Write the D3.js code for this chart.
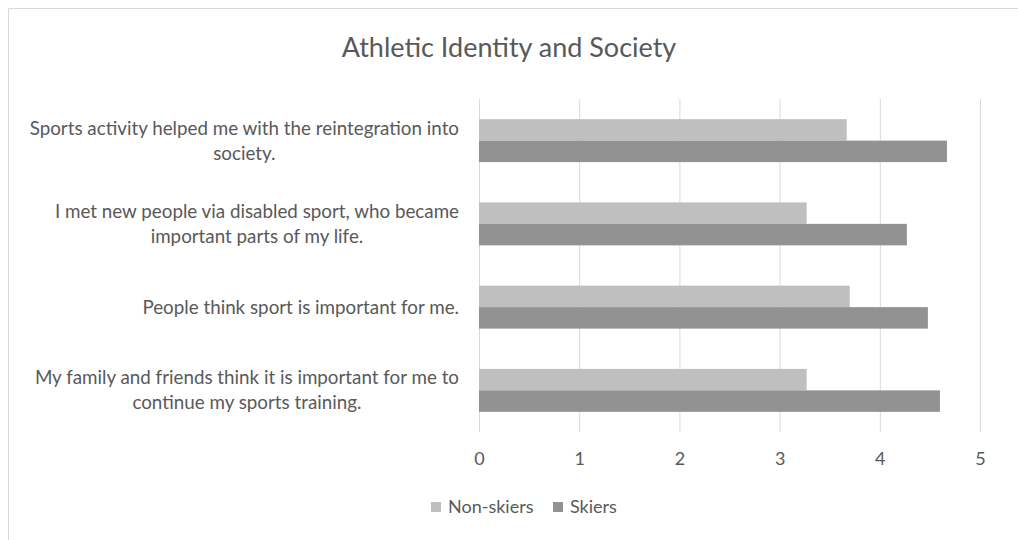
<!DOCTYPE html>
<html>
<head>
<meta charset="utf-8">
<script src="https://cdn.jsdelivr.net/npm/d3@7"></script>
<style>
  html, body { margin: 0; padding: 0; background: #fff; }
  svg { display: block; }
  text { font-family: Lato, "Open Sans", sans-serif; fill: #595959; }
</style>
</head>
<body>
<svg id="chart" width="1018" height="540"></svg>
<script>
const categories = [
  ["Sports activity helped me with the reintegration into", "society."],
  ["I met new people via disabled sport, who became", "important parts of my life."],
  ["People think sport is important for me."],
  ["My family and friends think it is important for me to", "continue my sports training."]
];
const seriesNames = ["Non-skiers", "Skiers"];
const nonSkiers = [3.67, 3.27, 3.70, 3.27];
const skiers = [4.67, 4.27, 4.48, 4.60];
const xTicks = [0, 1, 2, 3, 4, 5];
const title = "Athletic Identity and Society";
const colors = ["#bfbfbf", "#929292"];

const svg = d3.select("#chart");

// chart frame
svg.append("path")
  .attr("d", "M8.5,540 L8.5,8.5 L1018,8.5")
  .attr("fill", "none").attr("stroke", "#d9d9d9").attr("stroke-width", 1);

const plot = { left: 479, right: 980, top: 99, bottom: 432 };

const x = d3.scaleLinear().domain([0, 5]).range([plot.left, plot.right]);
const idx = d3.range(categories.length);
const y = d3.scaleBand().domain(idx).range([plot.top, plot.bottom])
  .paddingInner(0.484).paddingOuter(0.242);
const ySub = d3.scaleBand().domain([0, 1]).range([0, y.bandwidth()]);

// gridlines via axis
const grid = svg.append("g")
  .attr("transform", `translate(0,${plot.bottom})`)
  .call(d3.axisBottom(x).tickValues(xTicks).tickSize(-(plot.bottom - plot.top)).tickFormat(""));
grid.select(".domain").remove();
grid.selectAll(".tick line").attr("stroke", "#d9d9d9").attr("stroke-width", 1);

// bars
const data = idx.map(i => [nonSkiers[i], skiers[i]]);
const groups = svg.append("g").selectAll("g").data(data).join("g")
  .attr("transform", (d, i) => `translate(0,${y(i)})`);
groups.selectAll("rect").data(d => d).join("rect")
  .attr("x", x(0))
  .attr("y", (d, j) => ySub(j))
  .attr("width", d => x(d) - x(0))
  .attr("height", ySub.bandwidth())
  .attr("fill", (d, j) => colors[j]);

// x axis labels
const xAxis = svg.append("g")
  .attr("transform", `translate(0,${plot.bottom})`)
  .call(d3.axisBottom(x).tickValues(xTicks).tickSize(0).tickPadding(20).tickFormat(d3.format("d")));
xAxis.select(".domain").remove();
xAxis.selectAll("text").attr("font-size", 18).attr("fill", "#595959")
  .style("font-family", "Lato, 'Open Sans', sans-serif");

// category labels
const labelRight = 459;
const lineH = 25;
const catG = svg.append("g");
idx.forEach(i => {
  const lines = categories[i];
  const cy = y(i) + y.bandwidth() / 2;
  const t = catG.append("text").attr("font-size", 18.8);
  const tmp = lines.map(l => {
    const s = t.append("tspan").text(l);
    const w = s.node().getComputedTextLength();
    return { s, w };
  });
  const maxW = d3.max(tmp, d => d.w);
  const cx = labelRight - maxW / 2;
  tmp.forEach((d, k) => {
    d.s.attr("x", cx).attr("text-anchor", "middle")
      .attr("y", cy + (k - (lines.length - 1) / 2) * lineH)
      .attr("dy", "0.35em");
  });
});

// title
svg.append("text").attr("x", 509).attr("y", 48).attr("dy", "0.35em")
  .attr("text-anchor", "middle").attr("font-size", 27).text(title);

// legend
const legend = svg.append("g").attr("transform", "translate(0,507)");
const legX = [431, 553];
seriesNames.forEach((n, j) => {
  legend.append("rect").attr("x", legX[j]).attr("y", -5).attr("width", 10).attr("height", 10).attr("fill", colors[j]);
  legend.append("text").attr("x", legX[j] + 17).attr("y", 0).attr("dy", "0.35em")
    .attr("font-size", 18).text(n);
});
</script>
</body>
</html>
